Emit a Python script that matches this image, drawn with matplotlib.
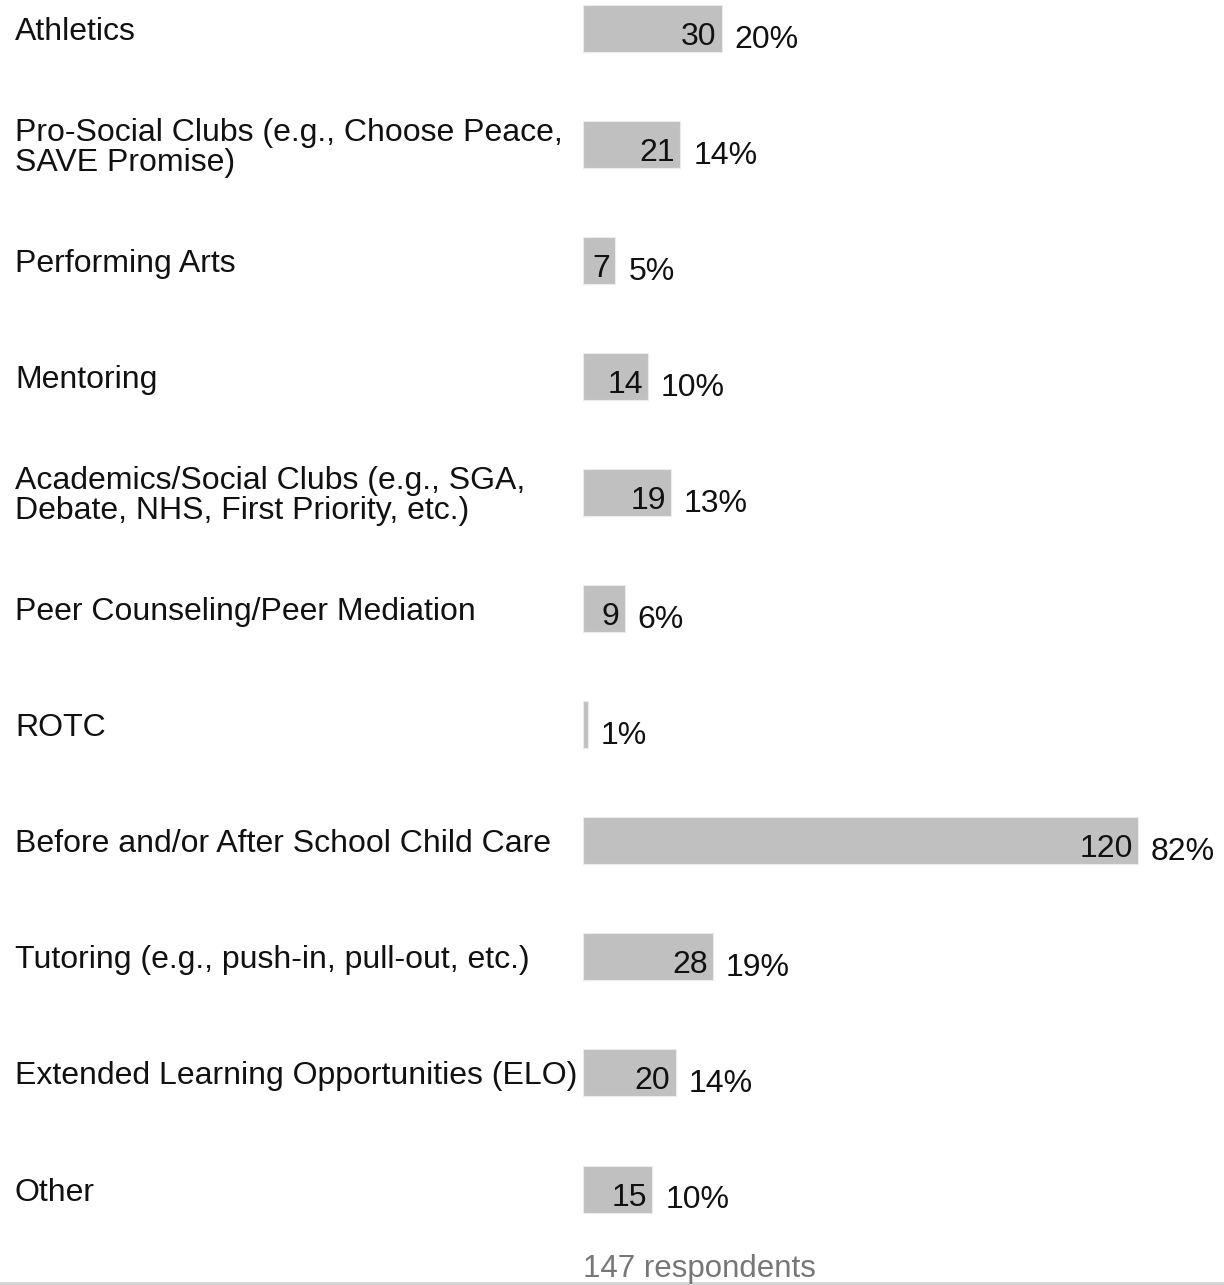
import matplotlib
matplotlib.use("Agg")
import matplotlib.pyplot as plt
import matplotlib.transforms as mtransforms
from matplotlib.lines import Line2D

plt.rcParams['font.family'] = ['Liberation Sans', 'DejaVu Sans']

categories = [
    "Athletics",
    "Pro-Social Clubs (e.g., Choose Peace,\nSAVE Promise)",
    "Performing Arts",
    "Mentoring",
    "Academics/Social Clubs (e.g., SGA,\nDebate, NHS, First Priority, etc.)",
    "Peer Counseling/Peer Mediation",
    "ROTC",
    "Before and/or After School Child Care",
    "Tutoring (e.g., push-in, pull-out, etc.)",
    "Extended Learning Opportunities (ELO)",
    "Other",
]
counts = [30, 21, 7, 14, 19, 9, 1, 120, 28, 20, 15]
percents = ["20%", "14%", "5%", "10%", "13%", "6%", "1%", "82%", "19%", "14%", "10%"]
respondents = 147

W, H = 1224, 1285
fig = plt.figure(figsize=(W / 100, H / 100), dpi=100)

# axes starts where the bars start and runs to the right edge
x0 = 583
ax = fig.add_axes([x0 / W, 0, 1 - x0 / W, 1])
px_per_unit = 4.625
ax.set_xlim(0, (W - x0) / px_per_unit)
row = 116.05
top = 28.5
ax.set_ylim((H - top) / row, -top / row)
ax.axis("off")

ypos = list(range(len(categories)))
ax.barh(ypos, counts, height=47 / row, color="#c0c0c0",
        edgecolor="#ececec", linewidth=0.8)

pt = 72 / 100  # pixels -> points
fs = 23
for y, c, p in zip(ypos, counts, percents):
    bottom = y + 0.5 * 47 / row
    if c * px_per_unit > 25:
        ax.annotate(str(c), (c, bottom), xytext=(-5 * pt, 7 * pt),
                    textcoords="offset points", ha="right", va="baseline",
                    fontsize=fs, color="#111111")
    ax.annotate(p, (c, bottom), xytext=(13 * pt, 4 * pt),
                textcoords="offset points", ha="left", va="baseline",
                fontsize=fs, color="#111111")

trans = mtransforms.blended_transform_factory(fig.transFigure, ax.transData)
for y, lab in zip(ypos, categories):
    ax.text(15 / W, y + 3.5 / row, lab, transform=trans, ha="left", va="center",
            fontsize=fs, color="#111111", linespacing=0.98)

fig.text(x0 / W, 1 - 1277 / H, f"{respondents} respondents", ha="left",
         va="baseline", fontsize=22.5, color="#777777")
fig.add_artist(Line2D([0, 1], [1 - 1283 / H] * 2, transform=fig.transFigure,
                      color="#d6d6d6", lw=3 * pt))

fig.savefig("out.png", dpi=100)
